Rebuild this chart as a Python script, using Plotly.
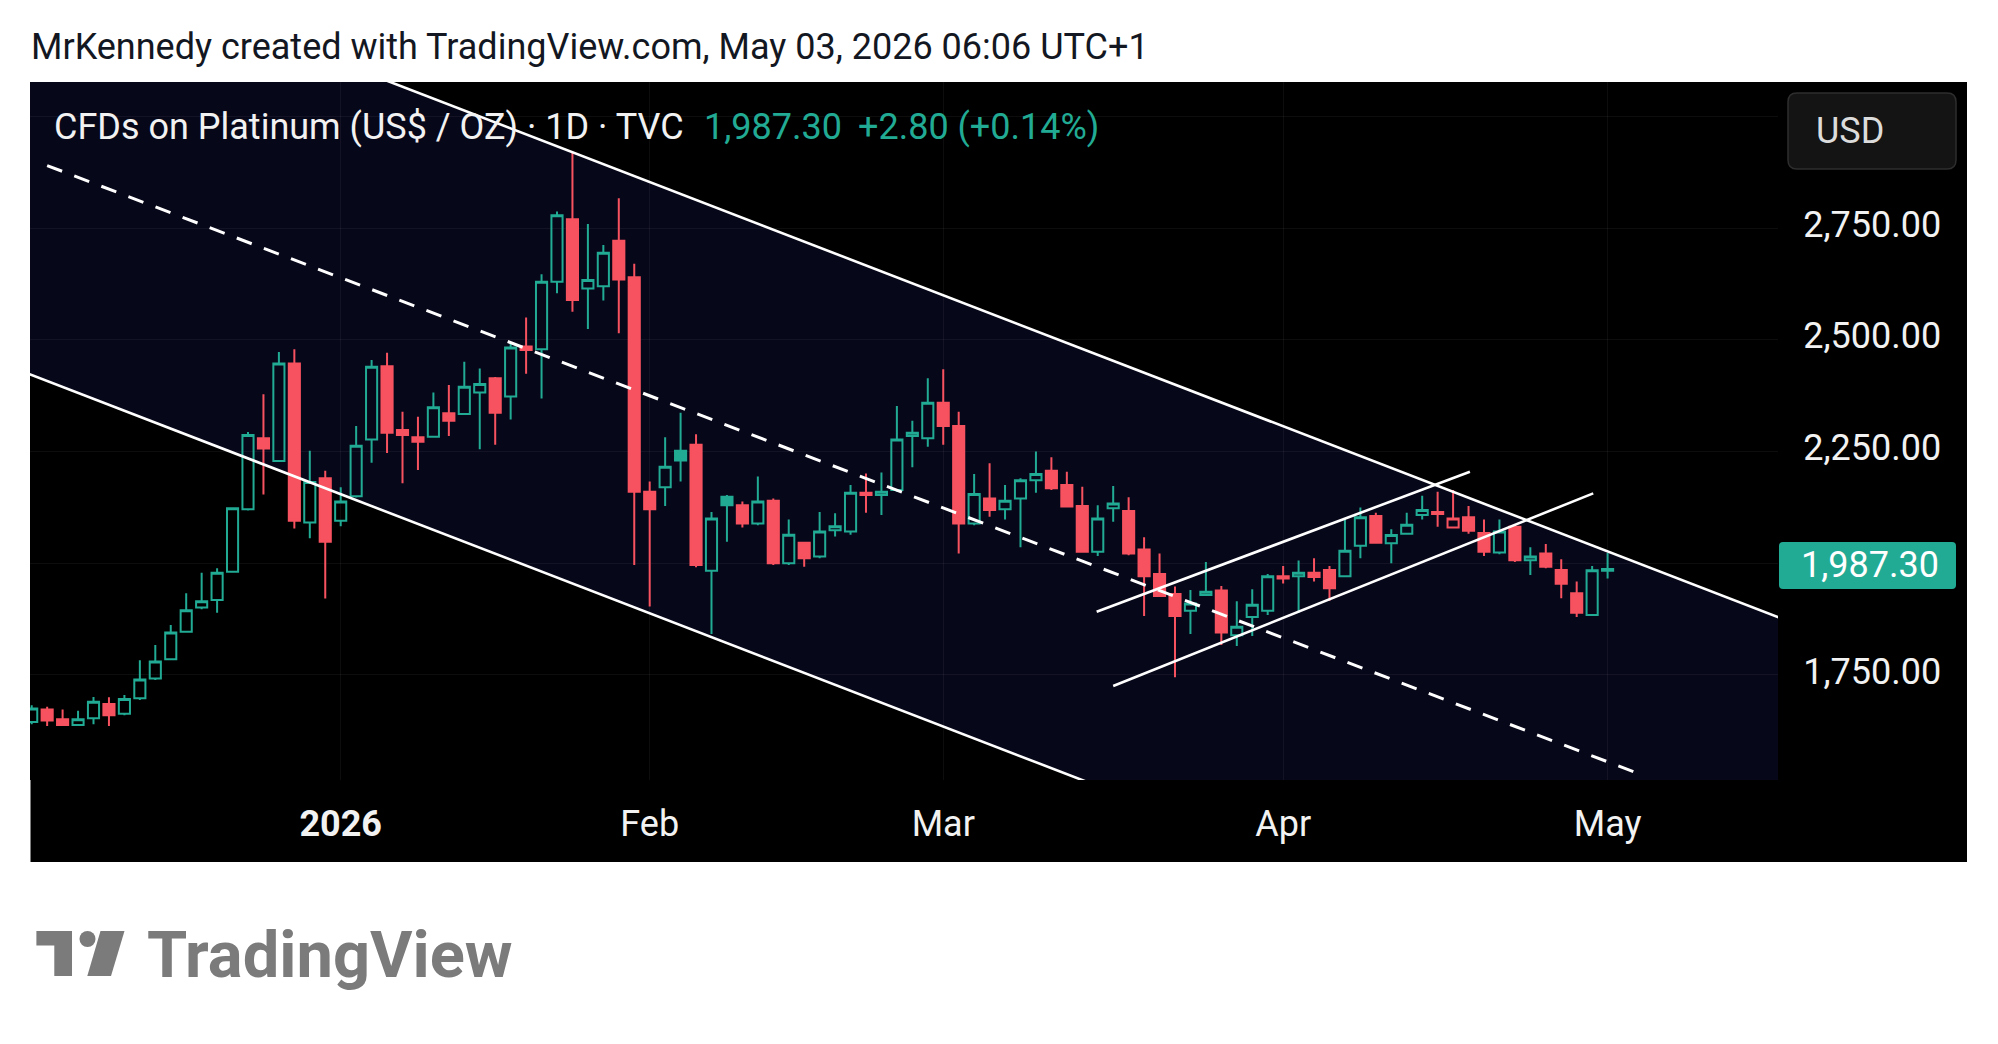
import plotly.graph_objects as go

# ---------------- data (daily bars, index 0 = first visible bar) ----------------
opens = [1645, 1673, 1651, 1638, 1653, 1685, 1663, 1698, 1742, 1785,
         1847, 1901, 1918, 1981, 2121, 2280, 2229, 2447, 2091, 2190,
         2095, 2150, 2277, 2441, 2298, 2282, 2283, 2336, 2334, 2382,
         2414, 2373, 2485, 2479, 2630, 2770, 2615, 2620, 2722, 2640,
         2160, 2170, 2252, 2265, 1983, 2149, 2130, 2089, 2140, 2000,
         2046, 2015, 2074, 2071, 2158, 2153, 2164, 2285, 2280, 2359,
         2307, 2089, 2145, 2121, 2145, 2186, 2207, 2175, 2128, 2026,
         2123, 2117, 2031, 1976, 1931, 1894, 1929, 1939, 1839, 1880,
         1894, 1971, 1971, 1979, 1985, 1971, 2039, 2106, 2045, 2066,
         2108, 2115, 2080, 2103, 2068, 2024, 2082, 2007, 2022, 1985,
         1933, 1884, 1983]
highs = [1682, 1679, 1673, 1670, 1701, 1700, 1705, 1783, 1817, 1862,
         1933, 1979, 1989, 2124, 2294, 2378, 2473, 2479, 2252, 2207,
         2170, 2307, 2455, 2471, 2339, 2328, 2382, 2399, 2451, 2436,
         2417, 2492, 2550, 2647, 2787, 2921, 2759, 2712, 2817, 2670,
         2183, 2282, 2337, 2289, 2115, 2153, 2138, 2194, 2145, 2098,
         2048, 2115, 2112, 2175, 2201, 2203, 2352, 2319, 2414, 2434,
         2339, 2200, 2224, 2175, 2190, 2250, 2237, 2205, 2171, 2130,
         2173, 2148, 2058, 2022, 1948, 1940, 2003, 1949, 1915, 1942,
         1976, 1994, 2006, 2011, 1994, 2101, 2125, 2113, 2076, 2113,
         2151, 2160, 2164, 2128, 2098, 2098, 2088, 2036, 2043, 2009,
         1959, 1994, 2023]
lows = [1640, 1636, 1636, 1636, 1640, 1636, 1660, 1694, 1739, 1783,
        1845, 1897, 1889, 1979, 2118, 2154, 2227, 2078, 2056, 1921,
        2083, 2147, 2225, 2247, 2179, 2209, 2282, 2285, 2332, 2255,
        2265, 2322, 2424, 2369, 2604, 2563, 2524, 2588, 2515, 1996,
        1903, 2128, 2183, 1991, 1842, 2048, 2080, 2085, 1996, 1996,
        1992, 2011, 2060, 2064, 2113, 2108, 2160, 2215, 2261, 2265,
        2022, 2085, 2104, 2098, 2036, 2158, 2164, 2125, 2024, 2016,
        2093, 2018, 1882, 1925, 1745, 1842, 1927, 1817, 1815, 1837,
        1884, 1955, 1889, 1959, 1916, 1969, 2011, 2045, 2000, 2065,
        2098, 2082, 2078, 2066, 2016, 2020, 2003, 1974, 1989, 1922,
        1880, 1884, 1966]
closes = [1675, 1648, 1638, 1651, 1690, 1660, 1696, 1740, 1780, 1845,
          1895, 1915, 1979, 2123, 2287, 2257, 2447, 2095, 2182, 2048,
          2138, 2263, 2440, 2292, 2287, 2272, 2349, 2319, 2395, 2401,
          2337, 2483, 2477, 2630, 2779, 2589, 2634, 2695, 2635, 2160,
          2121, 2216, 2230, 1996, 2100, 2130, 2089, 2138, 2000, 2064,
          2011, 2071, 2083, 2158, 2153, 2160, 2277, 2292, 2359, 2307,
          2089, 2155, 2119, 2140, 2186, 2200, 2168, 2127, 2026, 2100,
          2134, 2022, 1971, 1927, 1882, 1910, 1936, 1845, 1858, 1907,
          1971, 1966, 1979, 1969, 1944, 2028, 2103, 2046, 2063, 2086,
          2119, 2110, 2100, 2073, 2026, 2071, 2007, 2015, 1992, 1954,
          1889, 1984.5, 1987.3]

# hollow-candle colouring exceptions (colour follows change vs previous close)
red_hollow_idx = [92]
teal_filled_idx = [42, 45]

tick_idx = [20, 40, 59, 81, 102]
tick_labels = ["<b>2026</b>", "Feb", "Mar", "Apr", "May"]
price_ticks = [1750, 2000, 2250, 2500, 2750, 3000]
price_labels = ["1,750.00", "", "2,250.00", "2,500.00", "2,750.00", ""]

last_price_text = "1,987.30"
change_text = "+2.80 (+0.14%)"

# drawings (bar index, price)
channel_x = [-5, 120]
channel_upper = [3453.0, 1786.6]
channel_lower = [2487.9, 821.6]
mid_x = [1.0, 103.8]
mid_y = [2890, 1532]
rise_up_x = [68.93, 93.09]
rise_up_y = [1891.5, 2204.8]
rise_lo_x = [70.0, 101.07]
rise_lo_y = [1725.2, 2156.5]

# ---------------- layout geometry ----------------
W, H = 1998, 1044
ML, MR, MT, MB = 30, 220, 82, 264
PW, PH = W - ML - MR, H - MT - MB

def PX(x):
    return (x - ML) / PW

def PY(y):
    return 1 - (y - MT) / PH

def rrect(x0, y0, x1, y1, r):
    pts = [
        ("M", PX(x0 + r), PY(y0)), ("L", PX(x1 - r), PY(y0)),
        ("Q", PX(x1), PY(y0), PX(x1), PY(y0 + r)), ("L", PX(x1), PY(y1 - r)),
        ("Q", PX(x1), PY(y1), PX(x1 - r), PY(y1)), ("L", PX(x0 + r), PY(y1)),
        ("Q", PX(x0), PY(y1), PX(x0), PY(y1 - r)), ("L", PX(x0), PY(y0 + r)),
        ("Q", PX(x0), PY(y0), PX(x0 + r), PY(y0)),
    ]
    s = ""
    for p in pts:
        s += p[0] + " " + " ".join(f"{v:.5f}" for v in p[1:]) + " "
    return s + "Z"

def poly(points):
    s = "M " + " L ".join(f"{PX(x):.5f} {PY(y):.5f}" for x, y in points)
    return s + " Z"

TEAL = "#22ab94"
RED = "#f7525f"
FONT = "Roboto"
FS = 36

n = len(opens)
special = set(red_hollow_idx) | set(teal_filled_idx)
norm = [i for i in range(n) if i not in special]

def sel(arr, idx):
    return [arr[i] for i in idx]

fig = go.Figure()

fig.add_trace(go.Candlestick(
    x=norm, open=sel(opens, norm), high=sel(highs, norm), low=sel(lows, norm), close=sel(closes, norm),
    increasing=dict(line=dict(color=TEAL, width=2), fillcolor="rgba(0,0,0,0)"),
    decreasing=dict(line=dict(color=RED, width=2), fillcolor=RED),
    whiskerwidth=0, showlegend=False))
fig.add_trace(go.Candlestick(
    x=red_hollow_idx, open=sel(opens, red_hollow_idx), high=sel(highs, red_hollow_idx),
    low=sel(lows, red_hollow_idx), close=sel(closes, red_hollow_idx),
    increasing=dict(line=dict(color=RED, width=2), fillcolor="rgba(0,0,0,0)"),
    decreasing=dict(line=dict(color=RED, width=2), fillcolor=RED),
    whiskerwidth=0, showlegend=False))
fig.add_trace(go.Candlestick(
    x=teal_filled_idx, open=sel(opens, teal_filled_idx), high=sel(highs, teal_filled_idx),
    low=sel(lows, teal_filled_idx), close=sel(closes, teal_filled_idx),
    increasing=dict(line=dict(color=TEAL, width=2), fillcolor="rgba(0,0,0,0)"),
    decreasing=dict(line=dict(color=TEAL, width=2), fillcolor=TEAL),
    whiskerwidth=0, showlegend=False))

for xs, ys, dash in [(channel_x, channel_upper, None), (channel_x, channel_lower, None),
                     (mid_x, mid_y, "16px,13px"), (rise_up_x, rise_up_y, None),
                     (rise_lo_x, rise_lo_y, None)]:
    st = dict(color="white", width=2.6)
    if dash:
        st["dash"] = dash
        st["width"] = 3
    fig.add_trace(go.Scatter(x=xs, y=ys, mode="lines", line=st,
                             hoverinfo="skip", showlegend=False))

channel_path = (f"M {channel_x[0]} {channel_upper[0]} L {channel_x[1]} {channel_upper[1]} "
                f"L {channel_x[1]} {channel_lower[1]} L {channel_x[0]} {channel_lower[0]} Z")

shapes = [
    # black chart frame
    dict(type="rect", xref="paper", yref="paper", x0=PX(30.5), x1=PX(1967), y0=PY(862), y1=PY(82),
         fillcolor="black", line=dict(width=0), layer="below"),
    # channel background
    dict(type="path", xref="x", yref="y", path=channel_path,
         fillcolor="#07071a", line=dict(width=0), layer="below"),
    # USD box
    dict(type="path", xref="paper", yref="paper", path=rrect(1788, 93, 1956, 169, 9),
         fillcolor="#141414", line=dict(color="#2e2e2e", width=1.5), layer="above"),
    # last price box
    dict(type="path", xref="paper", yref="paper", path=rrect(1779, 542, 1956, 589, 4),
         fillcolor=TEAL, line=dict(width=0), layer="above"),
    # TradingView logo mark
    dict(type="path", xref="paper", yref="paper",
         path=poly([(36.4, 931), (72, 931), (72, 976), (54.3, 976), (54.3, 945.5), (36.4, 945.5)]),
         fillcolor="#7b7b7b", line=dict(width=0)),
    dict(type="circle", xref="paper", yref="paper", x0=PX(79.5), x1=PX(95.5), y0=PY(947), y1=PY(931),
         fillcolor="#7b7b7b", line=dict(width=0)),
    dict(type="path", xref="paper", yref="paper",
         path=poly([(100.5, 931), (124.5, 931), (111, 976), (87.3, 976)]),
         fillcolor="#7b7b7b", line=dict(width=0)),
]

def ann(text, x, y, size, color, anchor="left", weight=None):
    f = dict(family=FONT, size=size, color=color)
    if weight:
        f["weight"] = weight
    return dict(text=text, xref="paper", yref="paper", x=PX(x), y=PY(y),
                xanchor=anchor, yanchor="middle", showarrow=False, font=f)

annotations = [
    ann("MrKennedy created with TradingView.com, May 03, 2026 06:06 UTC+1", 29, 47, 36, "#131722"),
    ann("CFDs on Platinum (US$ / OZ) · 1D · TVC", 52, 127, FS, "#f2f2f2"),
    ann(last_price_text, 702, 127, FS, TEAL),
    ann(change_text, 856, 127, FS, TEAL),
    ann("USD", 1814, 131, FS, "#dcdcdc"),
    ann(last_price_text, 1799, 565, FS, "white"),
    ann("TradingView", 145, 955, 65, "#7b7b7b", weight="bold"),
]

fig.update_layout(
    template="none",
    width=W, height=H,
    margin=dict(l=ML, r=MR, t=MT, b=MB, pad=0),
    paper_bgcolor="white",
    plot_bgcolor="black",
    boxgap=0.28, boxgroupgap=0,
    showlegend=False,
    shapes=shapes,
    annotations=annotations,
    xaxis=dict(
        range=[-0.11, 113.03], rangeslider=dict(visible=False), automargin=False,
        tickmode="array", tickvals=tick_idx, ticktext=tick_labels,
        tickfont=dict(family=FONT, size=FS, color="#f2f2f2"),
        ticks="outside", ticklen=12, tickcolor="rgba(0,0,0,0)",
        showgrid=True, gridcolor="rgba(255,255,255,0.05)", gridwidth=1,
        zeroline=False, showline=False, fixedrange=True,
    ),
    yaxis=dict(
        range=[1515, 3077], side="right", automargin=False,
        tickmode="array", tickvals=price_ticks, ticktext=price_labels,
        tickfont=dict(family=FONT, size=FS, color="#f2f2f2"),
        ticks="outside", ticklen=17, tickcolor="rgba(0,0,0,0)",
        ticklabelshift=-4,
        showgrid=True, gridcolor="rgba(255,255,255,0.05)", gridwidth=1,
        zeroline=False, showline=False, fixedrange=True,
    ),
)

fig.write_html("out.html")
